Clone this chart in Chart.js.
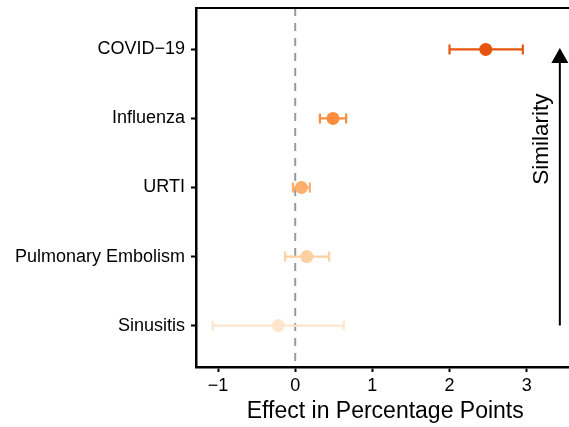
<!DOCTYPE html>
<html>
<head>
<meta charset="utf-8">
<script src="https://cdn.jsdelivr.net/npm/chart.js@4"></script>
<style>
  html, body { margin: 0; padding: 0; background: #fff; overflow: hidden; }
  /* the plot panel of the original runs past the right edge of the picture */
  #wrap { width: 581px; height: 427px; }
</style>
</head>
<body>
<div id="wrap"><canvas id="forest"></canvas></div>
<script>
var conditions = ["COVID\u221219", "Influenza", "URTI", "Pulmonary Embolism", "Sinusitis"];
var effects = [2.47, 0.49, 0.08, 0.15, -0.22];
var lowerCI = [2.0, 0.32, -0.03, -0.13, -1.07];
var upperCI = [2.95, 0.66, 0.19, 0.44, 0.63];
var colors = ["#E6550D", "#FD8D3C", "#FDAE6B", "#FDD0A2", "#FEE6CE"];
var xTicks = [-1, 0, 1, 2, 3];

var FONT = "'Liberation Sans', Arial, Helvetica, sans-serif";

var points = [];
for (var i = 0; i < conditions.length; i++) {
    points.push({ x: effects[i], y: i + 1 });
}

// error bars, zero line, top border and the similarity arrow
var extras = {
    id: "extras",
    beforeDatasetsDraw: function(chart) {
        var ctx = chart.ctx;
        var xs = chart.scales.x, ys = chart.scales.y;
        var area = chart.chartArea;

        // dashed reference line at 0
        ctx.save();
        ctx.strokeStyle = "#9a9a9a";
        ctx.lineWidth = 2;
        ctx.setLineDash([8, 7]);
        ctx.beginPath();
        ctx.moveTo(xs.getPixelForValue(0), area.top);
        ctx.lineTo(xs.getPixelForValue(0), area.bottom);
        ctx.stroke();
        ctx.restore();

        // error bars
        ctx.save();
        ctx.lineWidth = 2.2;
        for (var i = 0; i < conditions.length; i++) {
            var y = ys.getPixelForValue(i + 1);
            var x1 = xs.getPixelForValue(lowerCI[i]);
            var x2 = xs.getPixelForValue(upperCI[i]);
            ctx.strokeStyle = colors[i];
            ctx.beginPath();
            ctx.moveTo(x1, y); ctx.lineTo(x2, y);
            ctx.moveTo(x1, y - 5); ctx.lineTo(x1, y + 5);
            ctx.moveTo(x2, y - 5); ctx.lineTo(x2, y + 5);
            ctx.stroke();
        }
        ctx.restore();
    },
    afterDraw: function(chart) {
        var ctx = chart.ctx;
        var xs = chart.scales.x, ys = chart.scales.y;
        var area = chart.chartArea;

        // top panel border
        ctx.save();
        ctx.strokeStyle = "#000";
        ctx.lineWidth = 2;
        ctx.beginPath();
        ctx.moveTo(area.left - 1, area.top);
        ctx.lineTo(chart.width, area.top);
        ctx.stroke();

        // arrow
        var ax = xs.getPixelForValue(3.43);
        var yBottom = ys.getPixelForValue(5);
        var yTip = ys.getPixelForValue(0.98);
        ctx.lineWidth = 2;
        ctx.beginPath();
        ctx.moveTo(ax, yBottom);
        ctx.lineTo(ax, yTip + 12);
        ctx.stroke();
        ctx.fillStyle = "#000";
        ctx.beginPath();
        ctx.moveTo(ax, yTip);
        ctx.lineTo(ax - 8.5, yTip + 15);
        ctx.lineTo(ax + 8.5, yTip + 15);
        ctx.closePath();
        ctx.fill();

        // label
        ctx.translate(xs.getPixelForValue(3.19), ys.getPixelForValue(2.3));
        ctx.rotate(-Math.PI / 2);
        ctx.font = "22.5px " + FONT;
        ctx.textAlign = "center";
        ctx.textBaseline = "middle";
        ctx.fillText("Similarity", 0, 0);
        ctx.restore();
    }
};

new Chart(document.getElementById("forest"), {
    type: "scatter",
    data: {
        datasets: [{
            data: points,
            backgroundColor: colors,
            borderColor: colors,
            borderWidth: 0,
            pointRadius: 6.5,
            pointHoverRadius: 6.5
        }]
    },
    options: {
        responsive: true,
        maintainAspectRatio: false,
        animation: false,
        layout: { padding: { top: 8, right: 0, left: 0, bottom: 0 } },
        plugins: {
            legend: { display: false },
            tooltip: { enabled: false }
        },
        scales: {
            x: {
                type: "linear",
                min: -1.286,
                max: 3.62,
                afterBuildTicks: function(scale) {
                    scale.ticks = xTicks.map(function(v) { return { value: v }; });
                },
                afterFit: function(scale) {
                    scale.height = 60;
                    scale.paddingLeft = 0;
                    scale.paddingRight = 0;
                },
                grid: {
                    drawOnChartArea: false,
                    color: "#000",
                    tickLength: 5,
                    tickWidth: 2
                },
                border: { color: "#000", width: 2.5 },
                ticks: {
                    color: "#000",
                    padding: 3,
                    font: { family: FONT, size: 18 },
                    callback: function(v) { return v < 0 ? "\u2212" + Math.abs(v) : String(v); }
                },
                title: {
                    display: true,
                    text: "Effect in Percentage Points",
                    color: "#000",
                    font: { family: FONT, size: 23 },
                    padding: { top: 0, bottom: 2 }
                }
            },
            y: {
                type: "linear",
                reverse: true,
                min: 0.4,
                max: 5.6,
                afterBuildTicks: function(scale) {
                    scale.ticks = conditions.map(function(c, i) { return { value: i + 1 }; });
                },
                afterFit: function(scale) {
                    scale.width = 196;
                    scale.paddingTop = 0;
                    scale.paddingBottom = 0;
                },
                grid: {
                    drawOnChartArea: false,
                    color: "#000",
                    tickLength: 5,
                    tickWidth: 2
                },
                border: { color: "#000", width: 2.5 },
                ticks: {
                    color: "#000",
                    padding: 6,
                    font: { family: FONT, size: 18 },
                    callback: function(v) { return conditions[v - 1]; }
                }
            }
        }
    },
    plugins: [extras]
});
</script>
</body>
</html>
